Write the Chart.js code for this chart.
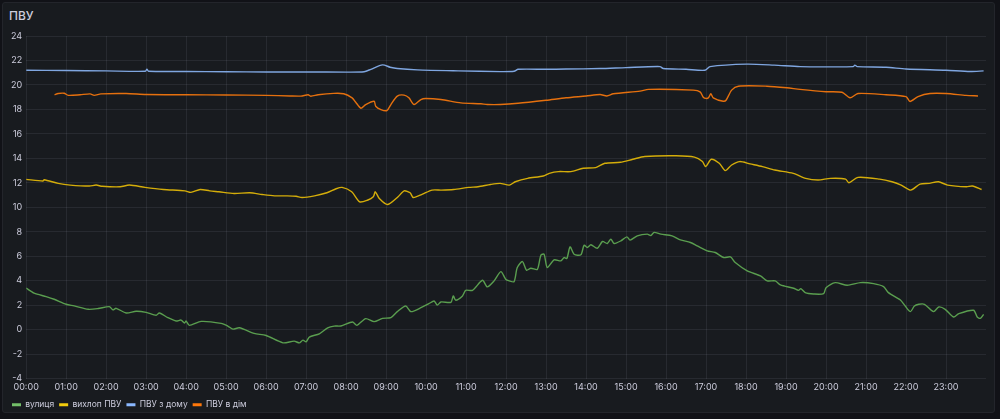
<!DOCTYPE html>
<html>
<head>
<meta charset="utf-8">
<script src="https://cdn.jsdelivr.net/npm/chart.js@4"></script>
<style>
  html, body { margin: 0; padding: 0; background: #111217; }
  body { width: 1000px; height: 419px; position: relative; overflow: hidden; font-family: Inter, sans-serif; }
  #panel { position: absolute; left: 2px; top: 2px; width: 991px; height: 409px; background: #181b1f; border: 1px solid #23252b; border-radius: 3px; }
  #titulo { position: absolute; left: 9px; top: 8px; font-size: 12px; font-weight: 500; color: #ccccdc; }
  #caixa { position: absolute; left: 0; top: 26px; width: 1000px; height: 393px; }
</style>
</head>
<body>
<div id="panel"></div>
<div id="titulo">ПВУ</div>
<div id="caixa"><canvas id="grafico"></canvas></div>
<script>
// вулиця
const ruaH = [0, 0.2, 0.5, 0.7, 1.0, 1.2, 1.55, 1.8, 2.08, 2.17, 2.25, 2.5, 2.75, 3.0, 3.25, 3.33, 3.54, 3.75, 3.875, 3.96, 4.0, 4.08, 4.375, 4.875, 5.04, 5.17, 5.33, 5.7, 6.0, 6.42, 6.7, 6.83, 6.92, 7.0, 7.08, 7.33, 7.54, 7.7, 7.87, 8.16, 8.27, 8.49, 8.7, 8.91, 9.12, 9.28, 9.49, 9.62, 9.83, 10.07, 10.2, 10.28, 10.37, 10.62, 10.68, 10.74, 10.91, 10.99, 11.16, 11.41, 11.53, 11.7, 11.87, 11.99, 12.08, 12.2, 12.28, 12.41, 12.51, 12.62, 12.78, 12.87, 12.95, 13.03, 13.2, 13.37, 13.45, 13.52, 13.6, 13.7, 13.87, 13.95, 14.03, 14.12, 14.28, 14.41, 14.53, 14.62, 14.7, 14.87, 15.02, 15.1, 15.28, 15.53, 15.62, 15.7, 15.87, 16.15, 16.36, 16.61, 16.78, 17.03, 17.23, 17.44, 17.61, 17.73, 18.03, 18.36, 18.53, 18.73, 18.86, 19.19, 19.31, 19.37, 19.48, 19.69, 19.94, 20.0, 20.23, 20.53, 20.86, 21.19, 21.44, 21.56, 21.86, 21.98, 22.11, 22.21, 22.32, 22.46, 22.69, 22.82, 22.98, 23.19, 23.32, 23.69, 23.78, 23.86, 23.94];
const ruaV = [3.40, 2.99, 2.71, 2.49, 2.08, 1.95, 1.67, 1.73, 1.89, 1.62, 1.75, 1.37, 1.51, 1.42, 1.18, 1.37, 0.99, 0.71, 0.79, 0.55, 0.71, 0.36, 0.68, 0.52, 0.30, 0.05, 0.16, -0.30, -0.47, -1.07, -0.93, -1.07, -0.85, -0.99, -0.60, -0.33, 0.16, 0.30, 0.31, 0.63, 0.36, 0.91, 0.66, 0.93, 0.99, 1.48, 1.94, 1.48, 1.73, 2.13, 2.35, 2.02, 2.27, 2.24, 2.76, 2.41, 2.76, 3.22, 3.22, 4.04, 3.50, 3.99, 4.75, 4.13, 3.99, 3.93, 5.08, 5.57, 4.86, 5.03, 4.92, 6.09, 6.17, 5.08, 5.71, 5.63, 5.90, 5.82, 6.77, 6.17, 6.12, 6.91, 6.72, 6.94, 6.66, 7.21, 7.05, 7.40, 7.05, 7.26, 7.59, 7.32, 7.67, 7.81, 7.70, 7.95, 7.81, 7.67, 7.35, 7.13, 6.85, 6.44, 6.31, 5.90, 5.95, 5.49, 4.81, 4.40, 3.99, 3.99, 3.66, 3.39, 3.22, 3.36, 3.03, 2.92, 2.95, 3.44, 3.85, 3.63, 3.85, 3.77, 3.52, 3.03, 2.43, 1.94, 1.48, 1.94, 2.08, 2.08, 1.48, 1.86, 1.67, 1.04, 1.32, 1.59, 1.04, 0.93, 1.26];

// вихлоп ПВУ
const exaustH = [0, 0.42, 0.45, 0.8, 1.1, 1.58, 1.75, 1.9, 2.35, 2.58, 2.97, 3.43, 3.97, 4.12, 4.35, 4.59, 4.82, 5.2, 5.59, 5.9, 6.21, 6.52, 6.75, 6.9, 7.21, 7.52, 7.75, 7.9, 8.14, 8.34, 8.53, 8.68, 8.73, 8.83, 9.04, 9.3, 9.45, 9.6, 9.68, 9.91, 10.15, 10.38, 10.69, 11.07, 11.3, 11.61, 11.85, 12.08, 12.23, 12.54, 12.93, 13.08, 13.31, 13.62, 13.93, 14.24, 14.47, 14.86, 15.17, 15.47, 16.25, 16.71, 16.91, 16.99, 17.13, 17.33, 17.48, 17.64, 17.84, 18.1, 18.41, 18.72, 19.18, 19.49, 19.8, 20.11, 20.49, 20.57, 20.8, 21.34, 21.65, 21.88, 22.12, 22.35, 22.58, 22.81, 23.04, 23.51, 23.66, 23.89];
const exaustV = [12.29, 12.15, 12.25, 11.96, 11.82, 11.74, 11.82, 11.72, 11.68, 11.82, 11.63, 11.46, 11.35, 11.22, 11.46, 11.35, 11.27, 11.13, 11.19, 11.05, 10.94, 10.94, 10.91, 10.80, 10.94, 11.19, 11.52, 11.63, 11.27, 10.45, 10.58, 10.86, 11.27, 10.72, 10.23, 10.86, 11.35, 11.19, 10.80, 11.08, 11.41, 11.41, 11.46, 11.63, 11.68, 11.87, 11.96, 11.82, 12.09, 12.37, 12.56, 12.78, 12.92, 12.92, 13.19, 13.25, 13.60, 13.68, 13.93, 14.15, 14.21, 14.10, 13.74, 13.33, 13.93, 13.60, 13.00, 13.46, 13.74, 13.55, 13.33, 13.05, 12.78, 12.37, 12.23, 12.37, 12.31, 12.01, 12.45, 12.31, 12.09, 11.82, 11.41, 11.90, 11.96, 12.09, 11.82, 11.68, 11.74, 11.46];

// ПВУ з дому
const dimOutH = [0, 1.0, 2.0, 2.98, 3.02, 3.06, 4.0, 5.0, 6.0, 7.0, 8.0, 8.45, 8.62, 8.91, 9.1, 9.28, 9.78, 10.8, 11.86, 12.2, 12.3, 13.0, 13.5, 14.35, 15.0, 15.85, 15.93, 16.5, 16.97, 17.1, 18.02, 18.7, 19.35, 20.0, 20.68, 20.72, 20.78, 21.5, 22.0, 23.0, 23.6, 23.94];
const dimOutV = [21.20, 21.18, 21.15, 21.12, 21.28, 21.12, 21.10, 21.08, 21.06, 21.06, 21.05, 21.08, 21.28, 21.64, 21.45, 21.34, 21.23, 21.15, 21.09, 21.12, 21.28, 21.28, 21.30, 21.34, 21.42, 21.50, 21.34, 21.28, 21.20, 21.50, 21.70, 21.62, 21.50, 21.48, 21.50, 21.62, 21.50, 21.45, 21.30, 21.20, 21.10, 21.15];

// ПВУ в дім
const dimInH = [0.71, 0.8, 0.95, 1.05, 1.35, 1.6, 1.7, 1.87, 2.5, 3.0, 4.0, 5.0, 6.0, 6.6, 6.87, 7.05, 7.12, 7.3, 7.69, 7.94, 8.15, 8.24, 8.37, 8.49, 8.7, 8.74, 8.87, 9.02, 9.12, 9.28, 9.45, 9.57, 9.7, 9.87, 9.99, 10.37, 10.87, 11.37, 11.53, 11.86, 12.3, 13.0, 13.5, 14.0, 14.35, 14.52, 14.68, 15.35, 15.56, 16.68, 16.85, 16.93, 17.0, 17.06, 17.12, 17.18, 17.43, 17.5, 17.64, 17.81, 18.52, 19.02, 19.35, 20.0, 20.4, 20.6, 20.8, 21.5, 22.0, 22.1, 22.3, 22.6, 23.0, 23.5, 23.8];
const dimInV = [19.20, 19.30, 19.32, 19.15, 19.20, 19.27, 19.15, 19.27, 19.30, 19.22, 19.20, 19.18, 19.15, 19.10, 19.09, 19.20, 19.08, 19.20, 19.31, 19.28, 18.95, 18.59, 18.10, 18.40, 18.67, 18.26, 17.99, 17.91, 18.40, 19.09, 19.17, 18.95, 18.40, 18.81, 18.89, 18.81, 18.54, 18.46, 18.40, 18.40, 18.50, 18.75, 18.95, 19.10, 19.22, 19.10, 19.28, 19.50, 19.64, 19.58, 19.44, 19.00, 18.90, 18.95, 19.28, 18.95, 18.67, 18.75, 19.58, 19.90, 19.90, 19.77, 19.64, 19.45, 19.40, 18.95, 19.30, 19.20, 19.05, 18.65, 19.05, 19.30, 19.30, 19.15, 19.10];

const horasTicks = [0, 1, 2, 3, 4, 5, 6, 7, 8, 9, 10, 11, 12, 13, 14, 15, 16, 17, 18, 19, 20, 21, 22, 23];
const valoresTicks = [-4, -2, 0, 2, 4, 6, 8, 10, 12, 14, 16, 18, 20, 22, 24];

function pares(H, V) {
    return H.map((h, i) => ({ x: h, y: V[i] }));
}

// cor da linha mais escura, cor da legenda mais clara
function serie(nome, H, V, corLinha, corLegenda) {
    return {
        label: nome,
        data: pares(H, V),
        borderColor: corLinha,
        backgroundColor: corLegenda,
        borderWidth: 1.4,
        pointRadius: 0,
        tension: 0.25,
        fill: false
    };
}

function main() {
    const ctx = document.getElementById('grafico').getContext('2d');
    const texto = '#ccccdc';
    const grade = 'rgba(204, 204, 220, 0.09)';

    window.graficoPVU = new Chart(ctx, {
        type: 'line',
        data: {
            datasets: [
                serie('вулиця', ruaH, ruaV, '#5a9e4f', '#73BF69'),
                serie('вихлоп ПВУ', exaustH, exaustV, '#d4ad0a', '#F2CC0C'),
                serie('ПВУ з дому', dimOutH, dimOutV, '#7fa6e0', '#8AB8FF'),
                serie('ПВУ в дім', dimInH, dimInV, '#e5700e', '#FF780A')
            ]
        },
        options: {
            animation: false,
            responsive: true,
            maintainAspectRatio: false,
            layout: { padding: { left: 7, right: 14, top: 10, bottom: 0 } },
            plugins: {
                tooltip: { enabled: false },
                legend: {
                    position: 'bottom',
                    align: 'start',
                    labels: {
                        color: texto,
                        boxWidth: 9,
                        boxHeight: 3,
                        padding: 5,
                        font: { family: 'Inter', size: 8.5 },
                        generateLabels: (chart) => {
                            const itens = Chart.defaults.plugins.legend.labels.generateLabels(chart);
                            itens.forEach(it => { it.lineWidth = 0; it.strokeStyle = it.fillStyle; });
                            return itens;
                        }
                    }
                }
            },
            scales: {
                x: {
                    type: 'linear',
                    min: 0,
                    max: 24,
                    afterBuildTicks: (eixo) => { eixo.ticks = horasTicks.map(v => ({ value: v })); },
                    grid: { color: grade, drawTicks: false },
                    border: { display: false },
                    ticks: {
                        color: texto,
                        padding: 3,
                        maxRotation: 0,
                        autoSkip: false,
                        font: { family: 'Inter', size: 9 },
                        callback: (v) => String(v).padStart(2, '0') + ':00'
                    }
                },
                y: {
                    min: -4,
                    max: 24,
                    afterBuildTicks: (eixo) => { eixo.ticks = valoresTicks.map(v => ({ value: v })); },
                    grid: { color: grade, drawTicks: false },
                    border: { display: false },
                    ticks: {
                        color: texto,
                        padding: 4,
                        font: { family: 'Inter', size: 9 }
                    }
                }
            }
        }
    });
}

window.addEventListener('DOMContentLoaded', main);
</script>
</body>
</html>
